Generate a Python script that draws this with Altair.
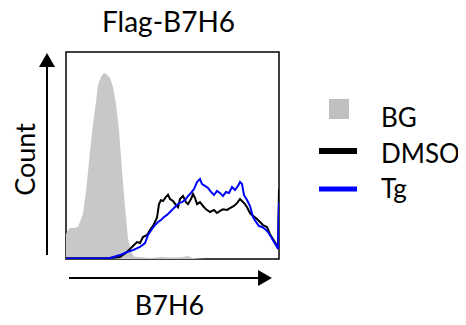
import altair as alt
import pandas as pd

# Channel positions (0-213 scale across the plot box) and relative counts (% of max scale)
bg_x = [0, 2, 4, 8, 12, 14, 17, 20, 22, 24, 27, 30, 32, 35, 38, 41, 44, 47, 50, 53, 56, 59, 62, 65, 68,
        75, 85, 95, 105, 115, 122, 126, 132, 140, 213]
bg_y = [12, 14, 15, 15, 15.5, 18, 22, 33, 42, 52, 65, 76, 84, 88, 90, 89, 87.5, 83, 75, 62, 43, 25, 10, 3.5, 1.2,
        0.8, 0.5, 1, 0.7, 0.9, 1.5, 0.6, 0.3, 0, 0]

dmso_x = [0, 20, 39, 44, 54, 61, 66, 71, 74, 77, 81, 84, 87, 91, 93, 95, 97, 100, 102, 104, 107, 110, 112, 114,
          117, 120, 122, 125, 127, 129, 131, 134, 137, 140, 144, 148, 151, 154, 157, 161, 164, 168, 171, 174,
          176, 179, 181, 184, 187, 190, 194, 197, 201, 204, 207, 210, 212, 213]
dmso_y = [0.4, 0.4, 0.4, 0.5, 1, 3.4, 5.8, 8.2, 7.7, 10.6, 11.6, 14, 16, 20, 26.5, 28.5, 28, 30, 31, 29, 28, 26,
          25, 29, 30.5, 27.5, 26.5, 29, 31.4, 29.5, 26.5, 27.5, 25.6, 24, 22.7, 23.7, 22.2, 23.2, 24, 23.7, 24.6,
          25.6, 27, 29, 28, 26.5, 25, 22.2, 20.8, 19.8, 17.9, 16.4, 15.5, 12, 9.7, 7.2, 6.3, 33.8]

tg_x = [0, 20, 39, 44, 54, 61, 67, 74, 79, 82, 86, 89, 92, 95, 98, 101, 104, 107, 110, 113, 116, 119, 122, 125,
        128, 131, 134, 136, 139, 142, 145, 148, 151, 154, 157, 160, 163, 166, 169, 172, 174, 176, 178, 181, 184,
        187, 190, 193, 196, 199, 202, 205, 208, 211, 212, 213]
tg_y = [0.3, 0.3, 0.3, 0.5, 1.9, 3.4, 4.3, 5.8, 7.7, 11.6, 14.5, 16.4, 17.9, 18.8, 20.3, 21.3, 22.7, 24.2, 25.6,
        27, 27.5, 28.5, 30.4, 31.9, 33.8, 37.2, 38.6, 36.2, 35.3, 34.3, 32.4, 30.9, 32.9, 31.9, 30.4, 32.4, 31.9,
        34.8, 33.3, 35.3, 37.2, 36.2, 30.9, 28.5, 25.6, 20.3, 17.9, 15.9, 15.5, 14.5, 13, 10.6, 8.2, 5.8, 4.8, 27.5]

legend_labels = ["BG", "DMSO", "Tg"]
title_text = "Flag-B7H6"
x_title = "B7H6"
y_title = "Count"

FONT = "Lato"
FS = 27

df_bg = pd.DataFrame({"ch": bg_x, "count": bg_y})
df_dmso = pd.DataFrame({"ch": dmso_x, "count": dmso_y})
df_tg = pd.DataFrame({"ch": tg_x, "count": tg_y})

xs = alt.Scale(domain=[0, 213], nice=False, zero=False)
ys = alt.Scale(domain=[0, 100], nice=False)
X = alt.X("ch:Q", scale=xs, axis=None)
Y = alt.Y("count:Q", scale=ys, axis=None)

bg = alt.Chart(df_bg).mark_area(color="#c8c8c8", clip=True, opacity=1).encode(x=X, y=Y)
dmso = alt.Chart(df_dmso).mark_line(color="black", strokeWidth=2, clip=True).encode(x=X, y=Y)
tg = alt.Chart(df_tg).mark_line(color="#0000ff", strokeWidth=2, clip=True).encode(x=X, y=Y)

one = pd.DataFrame({"a": [0]})
base = alt.Chart(one)

# axis arrows
vline = base.mark_rule(color="black", strokeWidth=2).encode(
    x=alt.value(-19), y=alt.value(203), y2=alt.value(14))
vhead = base.mark_point(shape="triangle-up", filled=True, color="black", size=256, strokeWidth=0, opacity=1).encode(
    x=alt.value(-19), y=alt.value(8))
hline = base.mark_rule(color="black", strokeWidth=2).encode(
    x=alt.value(3), x2=alt.value(193), y=alt.value(226))
hhead = base.mark_point(shape="triangle-right", filled=True, color="black", size=256, strokeWidth=0, opacity=1).encode(
    x=alt.value(199), y=alt.value(226))

# texts
title = base.mark_text(font=FONT, fontSize=FS + 1, align="center", baseline="alphabetic", color="black").encode(
    x=alt.value(102.5), y=alt.value(-20), text=alt.value(title_text))
xt = base.mark_text(font=FONT, fontSize=FS, align="center", baseline="alphabetic", color="black").encode(
    x=alt.value(103.5), y=alt.value(263), text=alt.value(x_title))
yt = base.mark_text(font=FONT, fontSize=FS, align="center", baseline="alphabetic", angle=270, color="black").encode(
    x=alt.value(-31), y=alt.value(107.5), text=alt.value(y_title))

# legend
lg_sq = base.mark_square(color="#c0c0c0", size=400, opacity=1).encode(x=alt.value(273), y=alt.value(57))
lg_l1 = base.mark_rule(color="black", strokeWidth=6).encode(x=alt.value(253), x2=alt.value(291), y=alt.value(99))
lg_l2 = base.mark_rule(color="#0000ff", strokeWidth=5).encode(x=alt.value(253), x2=alt.value(291), y=alt.value(137))
lg_t = []
for lab, yy in zip(legend_labels, [75, 111, 146]):
    lg_t.append(base.mark_text(font=FONT, fontSize=26, align="left", baseline="alphabetic", color="black").encode(
        x=alt.value(315), y=alt.value(yy), text=alt.value(lab)))

chart = alt.layer(bg, dmso, tg, vline, vhead, hline, hhead, title, xt, yt, lg_sq, lg_l1, lg_l2, *lg_t).properties(
    width=213, height=207,
    autosize=alt.AutoSizeParams(type="none"),
    padding={"left": 58, "top": 44, "right": 179, "bottom": 58},
).configure_view(stroke="black", strokeWidth=1.5)

chart.save("out.html", embed_options={"renderer": "svg", "actions": False})
